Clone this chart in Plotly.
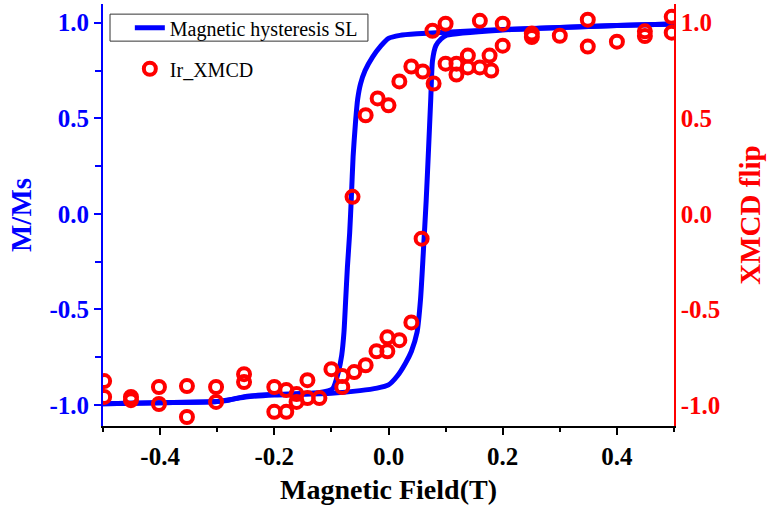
import plotly.graph_objects as go

# Hysteresis loop (normalised magnetisation)
# descending branch: +0.5 T -> -0.5 T
desc_field = [0.5, 0.4, 0.3, 0.2, 0.1, 0.05, 0.02, 0.0, -0.013, -0.028, -0.041, -0.049,
              -0.054, -0.058, -0.062, -0.065, -0.068, -0.072, -0.075, -0.078, -0.082,
              -0.088, -0.098, -0.12, -0.2, -0.25, -0.28, -0.3, -0.4, -0.5]
desc_m = [0.993, 0.985, 0.975, 0.965, 0.950, 0.942, 0.934, 0.918, 0.88, 0.82, 0.75, 0.68,
          0.60, 0.47, 0.30, 0.09, -0.10, -0.28, -0.45, -0.62, -0.74,
          -0.83, -0.915, -0.935, -0.945, -0.955, -0.975, -0.982, -0.988, -0.993]
# ascending branch: -0.5 T -> +0.5 T
asc_field = [-0.5, -0.4, -0.3, -0.27, -0.25, -0.2, -0.1, -0.05, -0.02, 0.0, 0.015, 0.03,
             0.04, 0.05, 0.056, 0.061, 0.066, 0.070, 0.074, 0.077, 0.083, 0.092,
             0.102, 0.2, 0.3, 0.4, 0.5]
asc_m = [-0.993, -0.988, -0.982, -0.968, -0.958, -0.948, -0.938, -0.925, -0.912, -0.895, -0.85, -0.78,
         -0.72, -0.62, -0.45, -0.20, 0.07, 0.33, 0.60, 0.80, 0.88, 0.915,
         0.935, 0.962, 0.975, 0.985, 0.993]

# Ir XMCD flip ratio
xmcd_field = [-0.498, -0.498, -0.451, -0.451, -0.402, -0.402, -0.353, -0.353,
              -0.302, -0.302, -0.253, -0.253, -0.2, -0.2, -0.179, -0.179,
              -0.161, -0.161, -0.142, -0.142, -0.121, -0.1, -0.081, -0.081,
              -0.06, -0.04, -0.021, -0.002, -0.002, 0.019, 0.04, 0.058,
              -0.063, -0.040, -0.019, 0.0, 0.019, 0.040, 0.060, 0.079,
              0.077, 0.1, 0.1, 0.119, 0.119, 0.139, 0.139, 0.160, 0.160,
              0.177, 0.18, 0.2, 0.2, 0.251, 0.251, 0.3, 0.349, 0.349, 0.4,
              0.449, 0.449, 0.496, 0.496]
xmcd_flip = [-0.875, -0.958, -0.958, -0.975, -0.906, -0.995, -0.901, -1.063,
             -0.906, -0.984, -0.839, -0.880, -0.906, -1.036, -0.922, -1.036,
             -0.943, -0.984, -0.870, -0.964, -0.964, -0.8125, -0.849, -0.906,
             -0.828, -0.792, -0.719, -0.646, -0.719, -0.661, -0.568, -0.130,
             0.089, 0.516, 0.604, 0.568, 0.693, 0.771, 0.745, 0.682,
             0.958, 0.995, 0.786, 0.786, 0.729, 0.828, 0.766, 0.766, 1.01,
             0.828, 0.75, 0.995, 0.88, 0.943, 0.925, 0.932, 1.016, 0.875, 0.901,
             0.955, 0.93, 1.031, 0.948]

x_tick_vals = [-0.4, -0.2, 0.0, 0.2, 0.4]
x_tick_text = ["-0.4", "-0.2", "0.0", "0.2", "0.4"]
y_tick_vals = [-1.0, -0.5, 0.0, 0.5, 1.0]
y_tick_text = ["-1.0", "-0.5", "0.0", "0.5", "1.0"]

X_RANGE = [-0.5, 0.5]
Y_RANGE = [-1.11, 1.098]
SERIF = "Liberation Serif"
BLUE = "#0000ff"
RED = "#ff0000"

fig = go.Figure()
loop_line = dict(color=BLUE, width=5, shape="spline", smoothing=0.6)
fig.add_trace(go.Scatter(
    x=desc_field, y=desc_m, mode="lines", name="Magnetic hysteresis SL",
    line=loop_line, legendgroup="a", yaxis="y"))
fig.add_trace(go.Scatter(
    x=asc_field, y=asc_m, mode="lines", name="Magnetic hysteresis SL",
    line=loop_line, legendgroup="a", showlegend=False, yaxis="y"))
fig.add_trace(go.Scatter(
    x=xmcd_field, y=xmcd_flip, mode="markers", name="Ir_XMCD",
    marker=dict(symbol="circle-open", size=12, color=RED, line=dict(width=4, color=RED)),
    legendgroup="b", yaxis="y2"))

tick_font = dict(family=SERIF, size=25, weight="bold")

fig.update_layout(
    width=768, height=515,
    margin=dict(l=103, r=94, t=4, b=89),
    paper_bgcolor="white", plot_bgcolor="white",
    showlegend=True,
    legend=dict(x=0.047, y=0.99, xanchor="left", yanchor="top",
                font=dict(family=SERIF, size=20, color="black"),
                bgcolor="rgba(0,0,0,0)", traceorder="grouped", tracegroupgap=12),
    xaxis=dict(range=X_RANGE, tickvals=x_tick_vals, ticktext=x_tick_text,
               ticks="outside", ticklen=7, tickwidth=1.5, tickcolor="black",
               minor=dict(dtick=0.1, tick0=0, ticks="outside", ticklen=4, tickwidth=1.5, tickcolor="black"),
               showline=True, linecolor="black", linewidth=2,
               showgrid=False, zeroline=False,
               tickfont=dict(tick_font, color="black"),
               title=dict(text="Magnetic Field(T)", font=dict(family=SERIF, size=28, weight="bold", color="black"),
                          standoff=10)),
    xaxis2=dict(range=X_RANGE, overlaying="x", side="top", showticklabels=False,
                tickvals=x_tick_vals, ticks="inside", ticklen=8, tickwidth=1.5, tickcolor="black",
                minor=dict(dtick=0.1, tick0=0, ticks="inside", ticklen=5, tickwidth=1.5, tickcolor="black"),
                showline=True, linecolor="black", linewidth=1.5,
                showgrid=False, zeroline=False),
    yaxis=dict(range=Y_RANGE, tickvals=y_tick_vals, ticktext=y_tick_text,
               ticks="outside", ticklen=7, tickwidth=1.5, tickcolor=BLUE,
               minor=dict(dtick=0.25, tick0=0, ticks="outside", ticklen=6, tickwidth=1.5, tickcolor=BLUE),
               showline=True, linecolor=BLUE, linewidth=2,
               showgrid=False, zeroline=False,
               tickfont=dict(tick_font, color=BLUE),
               title=dict(text="M/Ms", font=dict(family=SERIF, size=29, weight="bold", color=BLUE),
                          standoff=9)),
    yaxis2=dict(range=Y_RANGE, overlaying="y", side="right",
                tickvals=y_tick_vals, ticktext=y_tick_text, ticks="",
                showline=True, linecolor=RED, linewidth=1.5,
                showgrid=False, zeroline=False,
                tickfont=dict(tick_font, color=RED),
                title=dict(text="XMCD flip", font=dict(family=SERIF, size=29, weight="bold", color=RED),
                           standoff=20)),
)

# Frame around the first legend entry
fig.add_shape(type="rect", xref="paper", yref="paper",
              x0=0.0123, x1=0.464, y0=0.912, y1=0.976,
              line=dict(color="#333333", width=1), fillcolor="rgba(0,0,0,0)")

fig.write_html("out.html")
